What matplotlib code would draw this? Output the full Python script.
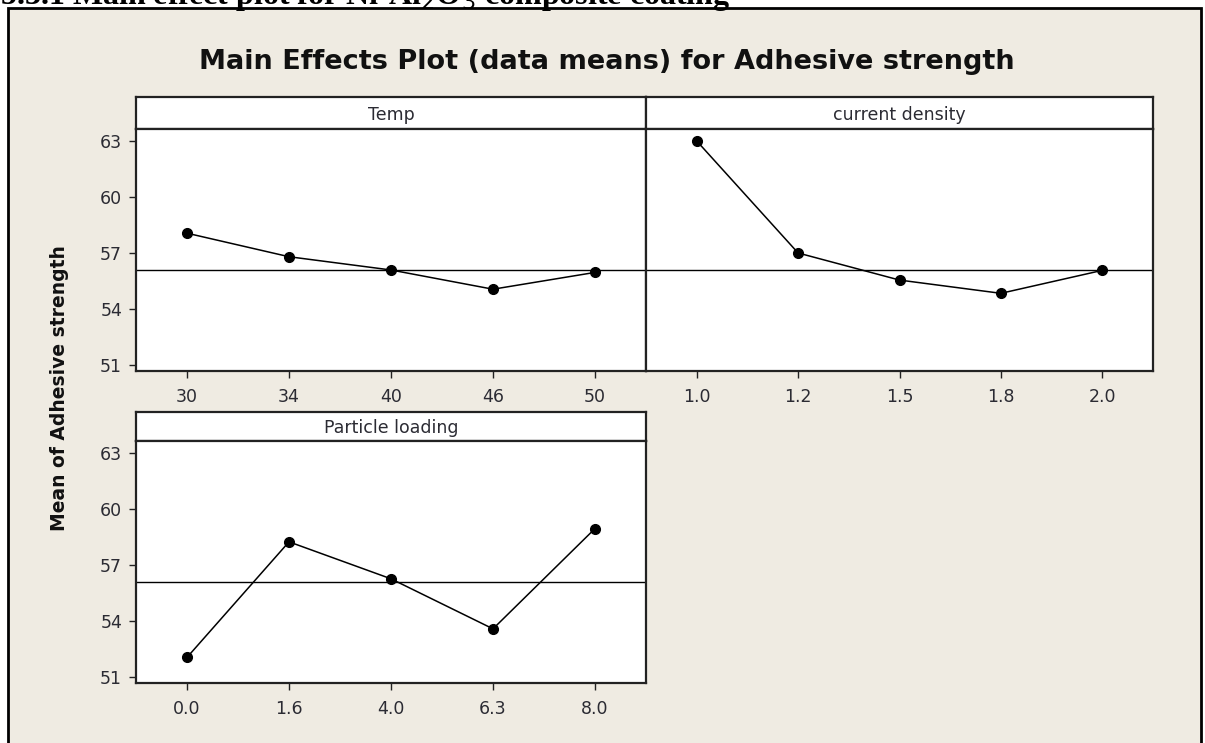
"""
Main effects plot (data means) for adhesive strength, Minitab style,
three factors laid out on a 2x2 grid with the last cell empty.
"""
import numpy as np
import matplotlib
matplotlib.use("Agg")
import matplotlib.pyplot as plt
from matplotlib.patches import Rectangle

# ---- Data ----
temp_levels = ["30", "34", "40", "46", "50"]
temp_means = [58.06, 56.80, 56.09, 55.06, 55.96]

cd_levels = ["1.0", "1.2", "1.5", "1.8", "2.0"]
cd_means = [63.0, 57.0, 55.55, 54.84, 56.07]

pl_levels = ["0.0", "1.6", "4.0", "6.3", "8.0"]
pl_means = [52.05, 58.24, 56.26, 53.58, 58.95]

grand_mean = 56.07
y_ticks = [51, 54, 57, 60, 63]

W, H = 1205, 743
BEIGE = "#efebe2"
TXT = "#2b2b33"


def px_box(x0, y0, x1, y1):
    """pixel box (top-left origin) -> figure fraction [l, b, w, h]"""
    return [x0 / W, (H - y1) / H, (x1 - x0) / W, (y1 - y0) / H]


def panel(fig, x0, x1, y_strip, y_top, y_bot, name, levels, means,
          show_y=True):
    strip = fig.add_axes(px_box(x0, y_strip, x1, y_top))
    strip.set_xticks([])
    strip.set_yticks([])
    strip.set_facecolor("white")
    for s in strip.spines.values():
        s.set_linewidth(1.6)
        s.set_color("#222222")
    strip.text(0.5, 0.45, name, ha="center", va="center", fontsize=12.5,
               color=TXT, transform=strip.transAxes)

    ax = fig.add_axes(px_box(x0, y_top, x1, y_bot))
    ax.set_facecolor("white")
    x = np.arange(1, len(levels) + 1)
    ax.axhline(grand_mean, color="black", linewidth=1.0)
    ax.plot(x, means, color="black", linewidth=1.1, marker="o",
            markersize=7)
    ax.set_xlim(0.5, len(levels) + 0.5)
    ax.set_ylim(50.68, 63.64)
    ax.set_xticks(x)
    ax.set_xticklabels(levels)
    ax.set_yticks(y_ticks)
    ax.tick_params(direction="out", length=5, width=1.0, color="#222222",
                   labelsize=12.5, labelcolor=TXT, pad=5)
    ax.tick_params(axis="x", pad=7)
    if not show_y:
        ax.tick_params(axis="y", left=False, labelleft=False)
    for s in ax.spines.values():
        s.set_linewidth(1.6)
        s.set_color("#222222")
    return ax


def main():
    fig = plt.figure(figsize=(W / 100, H / 100), dpi=100, facecolor="white")

    # beige Minitab frame, kept behind the axes
    fig.patches.append(Rectangle((8 / W, -0.05), 1193 / W, (H - 8) / H + 0.05,
                                 transform=fig.transFigure,
                                 facecolor=BEIGE, edgecolor="black",
                                 linewidth=2.0, zorder=-1))

    # document heading, cropped at the top edge as in the source page
    fig.text(0 / W, 1 - 4 / H,
             "5.3.1 Main effect plot for Ni-Al$_2$O$_3$ composite coating",
             ha="left", va="baseline", fontsize=23, fontweight="bold",
             family="Liberation Serif", color="black")

    fig.text(607 / W, 1 - 62 / H,
             "Main Effects Plot (data means) for Adhesive strength",
             ha="center", va="center", fontsize=19.5, fontweight="bold",
             color="#111111")

    panel(fig, 136, 646, 97, 129, 371, "Temp", temp_levels, temp_means)
    panel(fig, 646, 1153, 97, 129, 371, "current density", cd_levels,
          cd_means, show_y=False)
    panel(fig, 136, 646, 412, 441, 683, "Particle loading", pl_levels,
          pl_means)

    fig.text(60 / W, 1 - 388 / H, "Mean of Adhesive strength",
             rotation=90, ha="center", va="center", fontsize=13.5,
             fontweight="bold", color="#111111")

    fig.savefig("out.png", dpi=100, facecolor="white")
    plt.close(fig)


if __name__ == "__main__":
    main()
